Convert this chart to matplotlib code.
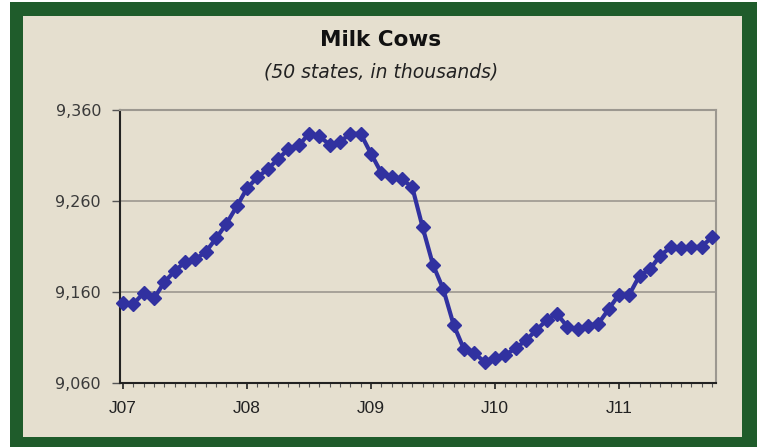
import matplotlib.pyplot as plt
from matplotlib.patches import Rectangle

# monthly milk cows, Jan 2007 .. Oct 2011 (thousands)
cows = [9148, 9147, 9159, 9153, 9171, 9183, 9193, 9196, 9204, 9219, 9235, 9254,
        9274, 9286, 9295, 9306, 9317, 9321, 9334, 9331, 9322, 9325, 9334, 9334,
        9312, 9291, 9286, 9284, 9275, 9231, 9190, 9163, 9124, 9097, 9093, 9083,
        9088, 9091, 9098, 9107, 9118, 9129, 9136, 9122, 9119, 9123, 9125, 9141,
        9157, 9157, 9178, 9185, 9200, 9209, 9208, 9209, 9210, 9220]
tick_pos = [0, 12, 24, 36, 48]
tick_labels = ['J07', 'J08', 'J09', 'J10', 'J11']
y_ticks = [9060, 9160, 9260, 9360]

W, H = 757, 447
green = '#1f5c2b'
beige = '#e5dfcf'
blue = '#3131a0'

fig = plt.figure(figsize=(W / 100, H / 100), dpi=100)
fig.patch.set_facecolor('white')

# green frame and beige panel (figure pixel coords, y from bottom)
fig.patches.append(Rectangle((10 / W, 0), 1 - 10 / W, (H - 2) / H,
                             transform=fig.transFigure, facecolor=green,
                             edgecolor='none', zorder=-2))
fig.patches.append(Rectangle((23 / W, (H - 437) / H), (742 - 23) / W, (437 - 16) / H,
                             transform=fig.transFigure, facecolor=beige,
                             edgecolor='none', zorder=-1))

left, right, top, bottom = 120.5, 716, 110, 383
ax = fig.add_axes([left / W, (H - bottom) / H, (right - left) / W, (bottom - top) / H])
ax.set_facecolor(beige)

ax.plot(range(len(cows)), cows, color=blue, lw=3, marker='D', ms=7.5,
        mec=blue, mfc=blue, solid_joinstyle='round', zorder=3, clip_on=False)

ax.set_ylim(9060, 9360)
ax.set_xlim(-0.25, 57.4)
ax.set_yticks(y_ticks)
ax.set_yticklabels([f'{v:,}' for v in y_ticks], fontsize=11.5, color='#3a3a3a',
                   family='DejaVu Sans')
ax.set_xticks(tick_pos)
ax.set_xticklabels(tick_labels, fontsize=12.5, color='#222222', family='Liberation Sans')
ax.set_xticks(range(0, 58), minor=True)
ax.tick_params(axis='x', which='major', length=4, width=1.2, color='#222222', pad=9)
ax.tick_params(axis='x', which='minor', length=3, width=0.8, color='#555555')
ax.tick_params(axis='y', length=6, width=1, color='#555555', pad=8)

ax.grid(axis='y', color='#9c9890', lw=1.2)
ax.set_axisbelow(True)
for s in ['top', 'right']:
    ax.spines[s].set_color('#9c9890')
    ax.spines[s].set_linewidth(1.5)
for s in ['left', 'bottom']:
    ax.spines[s].set_color('#222222')
    ax.spines[s].set_linewidth(1.5)

fig.text(381 / W, 1 - 40 / H, 'Milk Cows', ha='center', va='center',
         fontsize=15.5, fontweight='bold', color='#111111')
fig.text(381 / W, 1 - 72 / H, '(50 states, in thousands)', ha='center', va='center',
         fontsize=13.5, style='italic', color='#222222')

fig.savefig('out.png', dpi=100, facecolor=fig.get_facecolor())
